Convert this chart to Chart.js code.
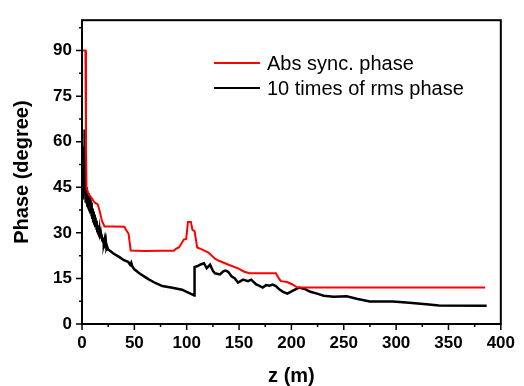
<!DOCTYPE html>
<html lang="en">
<head>
  <meta charset="UTF-8" />
  <title>Phase vs z</title>
  <script src="https://cdn.jsdelivr.net/npm/chart.js"></script>
  <style>
    html, body { margin: 0; padding: 0; background: #fff; }
    #wrap { width: 524px; height: 386px; }
  </style>
</head>
<body>
  <div id="wrap"><canvas id="phaseChart" width="524" height="386"></canvas></div>

  <script>
  // Abs sync. phase, [z (m), phase (deg)]
  const syncPhase = [
    [0.5,90],[3.3,90],[3.8,60],[4.3,45],[6,43],[8,42],[10,41],[12,40],[15,39.4],[17,37],[19,34],
    [21.5,32.1],[30,32.1],[40.5,32],[42,31],[44.5,29.7],[46.5,24.2],[60,24],[75,24.1],[87.7,24.1],
    [90,24.8],[92.5,25.2],[95,26.5],[97.2,27.8],[99.5,28],[101.2,33.6],[104,33.6],[105.5,31],
    [107.5,30.6],[110,25.2],[115,24.5],[120.8,23.5],[127,21.5],[130.2,20.9],[140,19.5],[149,18.3],
    [155,17.2],[160,16.7],[185.2,16.7],[188,15],[190,14.1],[196,13.8],[201,13],[205.7,12],[385,12]
  ];

  // 10 times of rms phase, [z (m), phase (deg)]
  const rmsPhase = [
    [0.5,52],[0.8,41],[1.1,55],[1.4,45],[1.7,50],[2.0,58],[2.3,64],[2.6,63],[2.9,48],[3.2,42],
    [3.5,46],[3.8,40],[4.1,45],[4.4,39.5],[4.7,44],[5.0,39],[5.4,43.5],[5.8,38.5],[6.2,43],[6.6,38],
    [7.0,42],[7.4,37.5],[7.8,41],[8.2,36.5],[8.6,40],[9.0,35.5],[9.4,39],[9.8,35],[10.2,38],[10.6,34],
    [11.0,37],[11.4,33.5],[11.8,36],[12.2,32.5],[12.6,35],[13.0,32],[13.4,34],[13.8,31],[14.2,33.5],
    [14.6,30.5],[15.0,32.5],[15.4,30],[15.8,31.5],[16.2,29.5],[16.6,31],[17.0,29],[17.4,30.5],
    [17.8,28.5],[18.2,29.5],[18.6,28],[19.0,29],[19.4,27.5],[19.8,28.5],[20.2,27],[20.6,28],[21.0,26.5],
    [21.4,27.5],[21.8,26],[22.2,27],[22.6,25.5],[23.0,26.5],[23.4,25],[24,25.5],[25,24.5],[26.4,24.2],
    [30,23.2],[35.8,22],[40,21],[44,20.5],[46,19.5],[47,20.2],[48,19],[50,18],[54.7,16.7],[60,15.5],
    [64.2,14.6],[70,13.5],[76.7,12.5],[85,12],[95.6,11.3],[100,10.6],[106.6,9.5],[107.2,9.4],
    [107.5,18.8],[110,19],[113.3,19.6],[116.5,20],[119.1,18.4],[122.3,19.5],[125,17.5],[127,16.7],
    [131.8,16.3],[134.9,17.3],[137,17.6],[139.6,17.2],[142.8,15.7],[146,15],[149,13.6],[153.8,14.6],
    [158.5,14.1],[161.6,14.6],[166.4,13],[169,12.6],[172.6,12],[175.8,12.8],[179,12.6],[182,13],
    [185.2,12.5],[188.4,11.4],[192,10.6],[196.2,10],[201,10.9],[207.3,12],[213.5,11.4],[218.2,10.6],
    [224.5,10],[230.8,9.3],[240.3,9],[252.8,9.1],[262.3,8.3],[274.8,7.4],[296.9,7.4],[312.6,7],
    [331.4,6.4],[340.9,6.1],[386.5,6]
  ];

  const seriesLabels = ['Abs sync. phase', '10 times of rms phase'];
  const xTicks = [0, 50, 100, 150, 200, 250, 300, 350, 400];
  const yTicks = [0, 15, 30, 45, 60, 75, 90];

  const FONT = 'Arial, "Liberation Sans", sans-serif';
  const toXY = arr => arr.map(p => ({ x: p[0], y: p[1] }));

  // frame box plus major/minor tick marks (outward)
  const frameTicks = {
    id: 'frameTicks',
    afterDraw(chart) {
      const { ctx, chartArea: a, scales: { x, y } } = chart;
      ctx.save();
      ctx.strokeStyle = '#000';
      ctx.lineWidth = 2;
      ctx.strokeRect(a.left, a.top, a.right - a.left, a.bottom - a.top);
      ctx.lineWidth = 1.5;
      ctx.beginPath();
      for (let i = 0; i < xTicks.length; i++) {
        const px = x.getPixelForValue(xTicks[i]);
        ctx.moveTo(px, a.bottom); ctx.lineTo(px, a.bottom + 6);
        if (i < xTicks.length - 1) {
          const mx = x.getPixelForValue((xTicks[i] + xTicks[i + 1]) / 2);
          ctx.moveTo(mx, a.bottom); ctx.lineTo(mx, a.bottom + 3);
        }
      }
      const yStep = yTicks[1] - yTicks[0];
      for (let i = 0; i < yTicks.length; i++) {
        const py = y.getPixelForValue(yTicks[i]);
        ctx.moveTo(a.left, py); ctx.lineTo(a.left - 6, py);
        const my = yTicks[i] + yStep / 2;
        if (my < y.max) {
          const pm = y.getPixelForValue(my);
          ctx.moveTo(a.left, pm); ctx.lineTo(a.left - 3, pm);
        }
      }
      ctx.stroke();
      ctx.restore();
    }
  };

  // legend inside the plot, top right
  const innerLegend = {
    id: 'innerLegend',
    afterDraw(chart) {
      const ctx = chart.ctx;
      ctx.save();
      ctx.font = '20px ' + FONT;
      ctx.textBaseline = 'middle';
      ctx.fillStyle = '#000';
      chart.data.datasets.forEach((ds, i) => {
        const yy = 63 + i * 25;
        ctx.strokeStyle = ds.borderColor;
        ctx.lineWidth = 2;
        ctx.beginPath();
        ctx.moveTo(214, yy); ctx.lineTo(260, yy);
        ctx.stroke();
        ctx.fillText(ds.label, 267, yy + 1);
      });
      ctx.restore();
    }
  };

  new Chart(document.getElementById('phaseChart'), {
    type: 'line',
    data: {
      datasets: [
        { label: seriesLabels[0], data: toXY(syncPhase), borderColor: '#ff0000', borderWidth: 2, pointRadius: 0, tension: 0 },
        { label: seriesLabels[1], data: toXY(rmsPhase), borderColor: '#000000', borderWidth: 2.5, pointRadius: 0, tension: 0 }
      ]
    },
    options: {
      responsive: false,
      animation: false,
      layout: { padding: { top: 9, right: 18, left: 0, bottom: 0 } },
      plugins: { legend: { display: false }, tooltip: { enabled: false } },
      scales: {
        x: {
          type: 'linear', min: 0, max: 400,
          afterBuildTicks: s => { s.ticks = xTicks.map(v => ({ value: v })); },
          afterFit: s => { s.height = 62; },
          grid: { display: false, drawTicks: false },
          border: { display: false },
          ticks: { color: '#000', padding: 9, font: { family: FONT, size: 17, weight: 'bold' } },
          title: { display: true, text: 'z (m)', color: '#000', padding: 0,
                   font: { family: FONT, size: 20, weight: 'bold', lineHeight: 1 } }
        },
        y: {
          min: 0, max: 100,
          afterBuildTicks: s => { s.ticks = yTicks.map(v => ({ value: v })); },
          afterFit: s => { s.width = 82; },
          grid: { display: false, drawTicks: false },
          border: { display: false },
          ticks: { color: '#000', padding: 10, font: { family: FONT, size: 17, weight: 'bold' } },
          title: { display: true, text: 'Phase (degree)', color: '#000', padding: { top: 10, bottom: 0 },
                   font: { family: FONT, size: 20, weight: 'bold', lineHeight: 1.2 } }
        }
      }
    },
    plugins: [frameTicks, innerLegend]
  });
  </script>
</body>
</html>
